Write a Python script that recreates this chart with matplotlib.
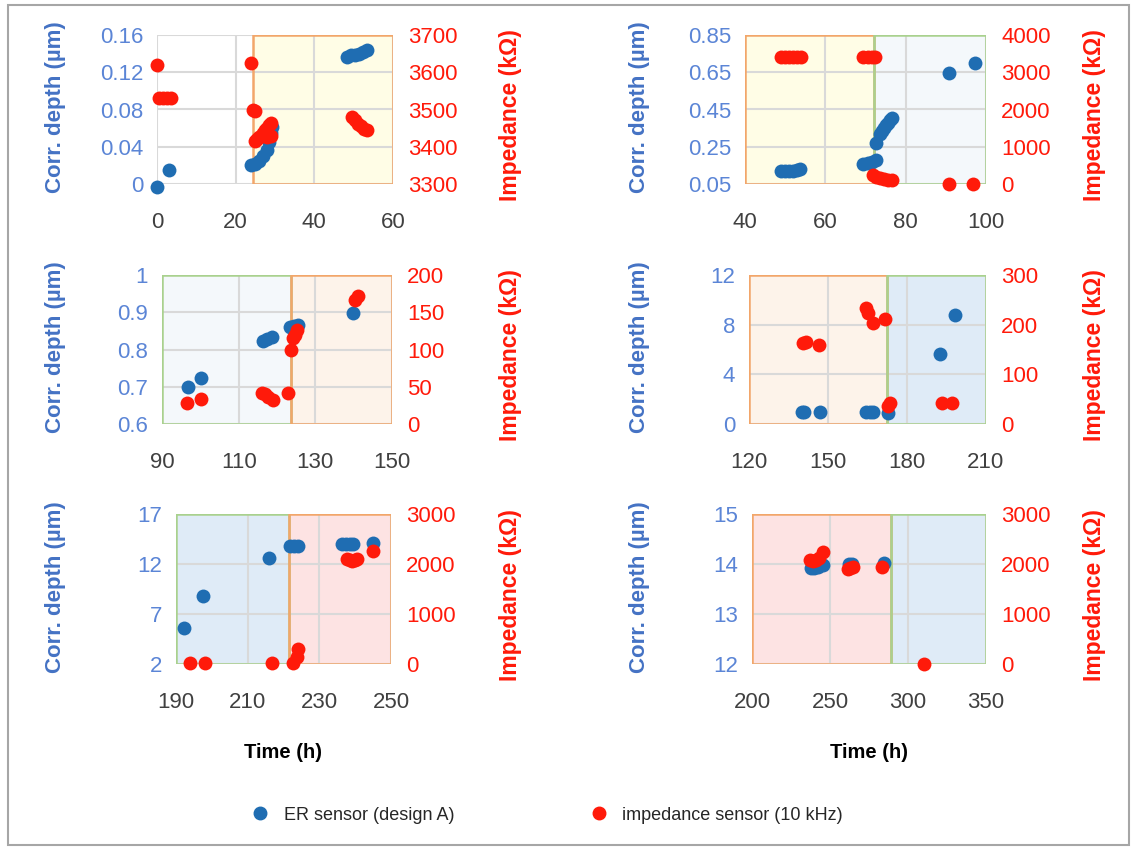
import matplotlib
matplotlib.use("Agg")
import matplotlib.pyplot as plt
from matplotlib.lines import Line2D
from matplotlib.patches import Rectangle

plt.rcParams["font.family"] = ["Liberation Sans", "DejaVu Sans"]

# ---------------------------------------------------------------
# Data (time in h, ER corrosion depth in um, impedance in kOhm)
# ---------------------------------------------------------------
er1_t = [0, 3, 24, 25, 26, 27, 28, 28.5, 29, 29.2, 48.3, 49.3, 50.3, 51.3, 52.3, 53.3]
er1_d = [-0.003, 0.015, 0.020, 0.022, 0.025, 0.030, 0.036, 0.045, 0.055, 0.061,
         0.136, 0.138, 0.139, 0.140, 0.142, 0.144]
imp1_t = [0, 0.5, 1.5, 2.5, 3.5, 24, 24.5, 25, 25, 25.5, 26, 26.5, 27, 27.5, 28,
          28.5, 29, 29, 28, 49.5, 50.3, 51, 51.8, 52.6, 53.4]
imp1_z = [3620, 3530, 3530, 3530, 3530, 3625, 3500, 3495, 3415, 3420, 3425, 3430,
          3438, 3445, 3450, 3458, 3465, 3430, 3425, 3480, 3472, 3462, 3455, 3448, 3445]

er2_t = [49, 50, 51, 52, 53, 53.8, 69.5, 70.5, 71.5, 72.5, 72.5, 73.5, 74, 74.5,
         75, 75.5, 76, 76.5, 90.8, 97.2]
er2_d = [0.12, 0.12, 0.12, 0.12, 0.125, 0.13, 0.16, 0.165, 0.17, 0.18, 0.27, 0.32,
         0.335, 0.35, 0.365, 0.38, 0.395, 0.405, 0.646, 0.70]
imp2_t = [49, 50, 51, 52, 53, 54, 69.5, 70.5, 71.5, 72.3, 71.8, 72.5, 73.5, 74.5,
          75.5, 76.5, 90.8, 96.8]
imp2_z = [3400, 3400, 3400, 3400, 3400, 3400, 3420, 3420, 3420, 3420, 250, 180,
          160, 140, 120, 110, 0, 0]

er3_t = [96.8, 100.2, 116.4, 117.5, 118.7, 123.4, 124.5, 125.5, 139.9]
er3_d = [0.699, 0.724, 0.823, 0.828, 0.834, 0.861, 0.864, 0.866, 0.898]
imp3_t = [96.5, 100.2, 116, 117, 117.7, 119, 122.9, 123.7, 124.3, 124.8, 125.2,
          140.3, 141.1]
imp3_z = [28, 34, 42, 40, 36, 32, 42, 99, 115, 120, 126, 166, 172]

er4_t = [140, 141, 147, 164.5, 166, 167, 172.8, 192.6, 198.3]
er4_d = [1.0, 1.0, 1.0, 1.0, 1.0, 1.0, 0.9, 5.6, 8.8]
imp4_t = [140.5, 141.6, 146.6, 164.5, 165.2, 167.1, 171.7, 172.8, 173.4, 193.4, 197.2]
imp4_z = [163, 166, 159, 233, 223, 203, 211, 36, 42, 42, 42]

er5_t = [192.3, 197.5, 216, 221.8, 223, 224, 236.4, 237.5, 238.5, 239.4, 245]
er5_d = [5.6, 8.8, 12.6, 13.8, 13.8, 13.8, 14.0, 14.0, 14.0, 14.0, 14.1]
imp5_t = [194, 198.1, 216.8, 222.7, 223.8, 224, 237.7, 238.5, 239, 240, 240.6, 245]
imp5_z = [20, 20, 20, 20, 140, 300, 2100, 2080, 2060, 2080, 2100, 2260]

er6_t = [238, 240, 242, 245.5, 262, 264, 284.6]
er6_d = [13.93, 13.93, 13.95, 13.98, 14.0, 14.0, 14.02]
imp6_t = [237, 239, 241, 243, 245.5, 261.5, 263, 265, 283.5, 310]
imp6_z = [2080, 2060, 2080, 2120, 2240, 1900, 1920, 1940, 1940, 0]

# axis ticks per panel
x_ticks = [[0, 20, 40, 60], [40, 60, 80, 100], [90, 110, 130, 150],
           [120, 150, 180, 210], [190, 210, 230, 250], [200, 250, 300, 350]]
d_ticks = [[0, 0.04, 0.08, 0.12, 0.16], [0.05, 0.25, 0.45, 0.65, 0.85],
           [0.6, 0.7, 0.8, 0.9, 1], [0, 4, 8, 12], [2, 7, 12, 17], [12, 13, 14, 15]]
z_ticks = [[3300, 3400, 3500, 3600, 3700], [0, 1000, 2000, 3000, 4000],
           [0, 50, 100, 150, 200], [0, 100, 200, 300], [0, 1000, 2000, 3000],
           [0, 1000, 2000, 3000]]

# shaded test phases: (start, end, phase)
phases = [
    [(24.4, 60, "yellow")],
    [(40, 72, "yellow"), (72, 100, "grey")],
    [(90, 123.7, "grey"), (123.7, 150, "peach")],
    [(120, 172.5, "peach"), (172.5, 210, "blue")],
    [(190, 221.6, "blue"), (221.6, 250, "pink")],
    [(200, 289, "pink"), (289, 350, "blue")],
]

# ---------------------------------------------------------------
# Styling
# ---------------------------------------------------------------
W, H = 1131, 847
BLUE = "#1F6DB2"
RED = "#FF1A0A"
LBL_BLUE = "#4472C4"
TICK_BLUE = "#5B85D6"
GRID = "#D9D9D9"
ORANGE = "#F2A66A"
GREEN = "#A9D18E"
PHASE_STYLE = {
    "yellow": ("#FFFDE6", ORANGE),
    "grey": ("#F4F8FB", GREEN),
    "peach": ("#FDF3EA", ORANGE),
    "blue": ("#DFEBF7", GREEN),
    "pink": ("#FDE3E3", ORANGE),
}
TICK_FS = 16

# pixel boxes (left, top, right, bottom) of each plot area
boxes = [(157, 35, 393, 184), (745, 35, 986, 184),
         (162, 275, 392, 424), (749, 275, 986, 424),
         (176, 514, 391, 664), (752, 514, 986, 664)]

fig = plt.figure(figsize=(W / 100, H / 100), dpi=100)
fig.patches.append(Rectangle((8 / W, 0.002), 1 - 8 / W - 0.002, 1 - 5 / H - 0.002,
                             transform=fig.transFigure, fill=False,
                             edgecolor="#A6A6A6", linewidth=1.5))

er_t = [er1_t, er2_t, er3_t, er4_t, er5_t, er6_t]
er_d = [er1_d, er2_d, er3_d, er4_d, er5_d, er6_d]
imp_t = [imp1_t, imp2_t, imp3_t, imp4_t, imp5_t, imp6_t]
imp_z = [imp1_z, imp2_z, imp3_z, imp4_z, imp5_z, imp6_z]

MS = 100

for i, (l, t, r, b) in enumerate(boxes):
    ax = fig.add_axes([l / W, 1 - b / H, (r - l) / W, (b - t) / H])
    ax2 = ax.twinx()

    xt, dt, zt = x_ticks[i], d_ticks[i], z_ticks[i]
    ax.set_xlim(xt[0], xt[-1])
    ax.set_ylim(dt[0], dt[-1])
    ax2.set_ylim(zt[0], zt[-1])
    ax.set_xticks(xt)
    ax.set_yticks(dt)
    ax2.set_yticks(zt)
    ax.set_xticklabels([f"{v:g}" for v in xt])
    ax.set_yticklabels([f"{v:g}" for v in dt])
    ax2.set_yticklabels([f"{v:g}" for v in zt])

    for a in (ax, ax2):
        for s in a.spines.values():
            s.set_visible(False)
        a.patch.set_visible(False)
    ax.set_axisbelow(True)
    ax.grid(True, color=GRID, linewidth=1.5)

    ax.tick_params(axis="x", length=0, pad=20, labelsize=TICK_FS, labelcolor="#404040")
    ax.tick_params(axis="y", length=0, pad=10, labelsize=TICK_FS, labelcolor=TICK_BLUE)
    ax2.tick_params(axis="y", length=0, pad=11, labelsize=TICK_FS, labelcolor=RED)

    # phase shading
    for x0, x1, ph in phases[i]:
        face, edge = PHASE_STYLE[ph]
        ax.add_patch(Rectangle((x0, dt[0]), x1 - x0, dt[-1] - dt[0], facecolor=face,
                               edgecolor="none", zorder=0.1))
        ax.add_patch(Rectangle((x0, dt[0]), x1 - x0, dt[-1] - dt[0], facecolor="none",
                               edgecolor=edge, linewidth=1.8, zorder=2))

    ax.scatter(er_t[i], er_d[i], s=MS, color=BLUE, linewidths=0, zorder=3, clip_on=False)
    ax2.scatter(imp_t[i], imp_z[i], s=MS, color=RED, linewidths=0, zorder=3, clip_on=False)

    # axis titles placed at fixed figure positions
    col_left = l < 500
    yc = (t + b) / 2
    fig.text((55 if col_left else 640) / W, 1 - (yc - 2) / H, "Corr. depth (µm)",
             rotation=90, ha="center", va="center", color=LBL_BLUE,
             fontsize=16, fontweight="bold")
    fig.text((510 if col_left else 1094) / W, 1 - (yc + 6) / H, "Impedance (kΩ)",
             rotation=90, ha="center", va="center", color=RED,
             fontsize=16.5, fontweight="bold")
    if i >= 4:
        fig.text((l + r) / 2 / W, 1 - 752 / H, "Time (h)", ha="center", va="center",
                 fontsize=14.5, fontweight="bold", color="black")

# legend
handles = [
    Line2D([0], [0], marker="o", linestyle="none", color=BLUE, markersize=9,
           label="ER sensor (design A)"),
    Line2D([0], [0], marker="o", linestyle="none", color=RED, markersize=9,
           label="impedance sensor (10 kHz)"),
]
fig.legend(handles=handles, loc="center", bbox_to_anchor=(547 / W, 1 - 815 / H),
           ncol=2, frameon=False, fontsize=13, handlelength=1, handletextpad=0.8,
           columnspacing=7.5, labelcolor="#262626")

fig.savefig("out.png", dpi=100)
plt.close(fig)
